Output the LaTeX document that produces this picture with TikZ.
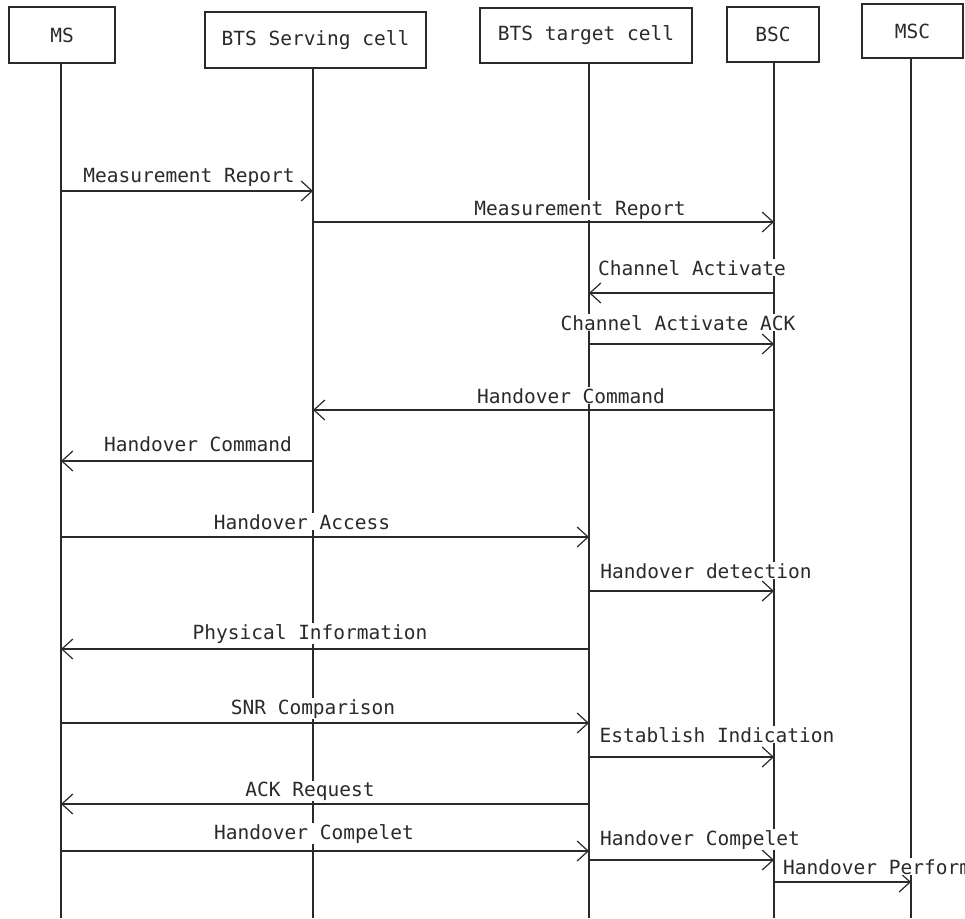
\documentclass[tikz,border=0pt]{standalone}
\usepackage{fontspec}
\newfontfamily\seqmono{DejaVu Sans Mono}
\usetikzlibrary{arrows.meta}
\definecolor{ink}{HTML}{2A2A2A}
\tikzset{
  actor/.style={draw=ink, line width=1.4pt, fill=white, inner sep=0pt, text=ink,
    font=\seqmono\fontsize{19.5}{22}\selectfont},
  lifeline/.style={draw=ink, line width=1.3pt},
  msg/.style={draw=ink, line width=1.3pt, -{Straight Barb[length=11pt,width=20pt,line width=1.2pt]}},
  lbl/.style={fill=white, inner sep=1pt, anchor=base, text=ink,
    font=\seqmono\fontsize{19.5}{22}\selectfont}
}
\begin{document}
\begin{tikzpicture}[x=1pt,y=-1pt]
\useasboundingbox (0,0) rectangle (965,918);
% lifeline tops
\coordinate (lms) at (61,63);
\coordinate (lserv) at (313,68);
\coordinate (ltgt) at (589,63);
\coordinate (lbsc) at (774,62);
\coordinate (lmsc) at (911,58);
% lifelines
\draw[lifeline] (lms) -- (lms |- 0,918);
\draw[lifeline] (lserv) -- (lserv |- 0,918);
\draw[lifeline] (ltgt) -- (ltgt |- 0,918);
\draw[lifeline] (lbsc) -- (lbsc |- 0,918);
\draw[lifeline] (lmsc) -- (lmsc |- 0,918);
% actor boxes
\node[actor, minimum width=106pt, minimum height=56pt] (ms) at (62,35) {MS};
\node[actor, minimum width=221pt, minimum height=56pt] (serv) at (315.5,40) {BTS Serving cell};
\node[actor, minimum width=212pt, minimum height=55pt] (tgt) at (586,35.5) {BTS target cell};
\node[actor, minimum width=92pt, minimum height=55pt] (bsc) at (773,34.5) {BSC};
\node[actor, minimum width=101pt, minimum height=54pt] (msc) at (912.5,31) {MSC};
% messages
\draw[msg] (lms |- 0,191) -- (lserv |- 0,191);
\node[lbl] (m1) at (189,182) {Measurement Report};
\draw[msg] (lserv |- 0,222) -- (lbsc |- 0,222);
\node[lbl] (m2) at (580,215) {Measurement Report};
\draw[msg] (lbsc |- 0,293) -- (ltgt |- 0,293);
\node[lbl] (m3) at (692,275) {Channel Activate};
\draw[msg] (ltgt |- 0,344) -- (lbsc |- 0,344);
\node[lbl] (m4) at (678,330) {Channel Activate ACK};
\draw[msg] (lbsc |- 0,410) -- (lserv |- 0,410);
\node[lbl] (m5) at (571,403) {Handover Command};
\draw[msg] (lserv |- 0,461) -- (lms |- 0,461);
\node[lbl] (m6) at (198,451) {Handover Command};
\draw[msg] (lms |- 0,537) -- (ltgt |- 0,537);
\node[lbl] (m7) at (302,529) {Handover Access};
\draw[msg] (ltgt |- 0,591) -- (lbsc |- 0,591);
\node[lbl] (m8) at (706,578) {Handover detection};
\draw[msg] (ltgt |- 0,649) -- (lms |- 0,649);
\node[lbl] (m9) at (310,639) {Physical Information};
\draw[msg] (lms |- 0,723) -- (ltgt |- 0,723);
\node[lbl] (m10) at (313,714) {SNR Comparison};
\draw[msg] (ltgt |- 0,757) -- (lbsc |- 0,757);
\node[lbl] (m11) at (717,742) {Establish Indication};
\draw[msg] (ltgt |- 0,804) -- (lms |- 0,804);
\node[lbl] (m12) at (310,796) {ACK Request};
\draw[msg] (lms |- 0,851) -- (ltgt |- 0,851);
\node[lbl] (m13) at (314,839) {Handover Compelet};
\draw[msg] (ltgt |- 0,860) -- (lbsc |- 0,860);
\node[lbl] (m14) at (700,845) {Handover Compelet};
\draw[msg] (lbsc |- 0,882) -- (lmsc |- 0,882);
\node[lbl, anchor=base west] (m15) at (782,874) {Handover Perform};
\end{tikzpicture}
\end{document}
